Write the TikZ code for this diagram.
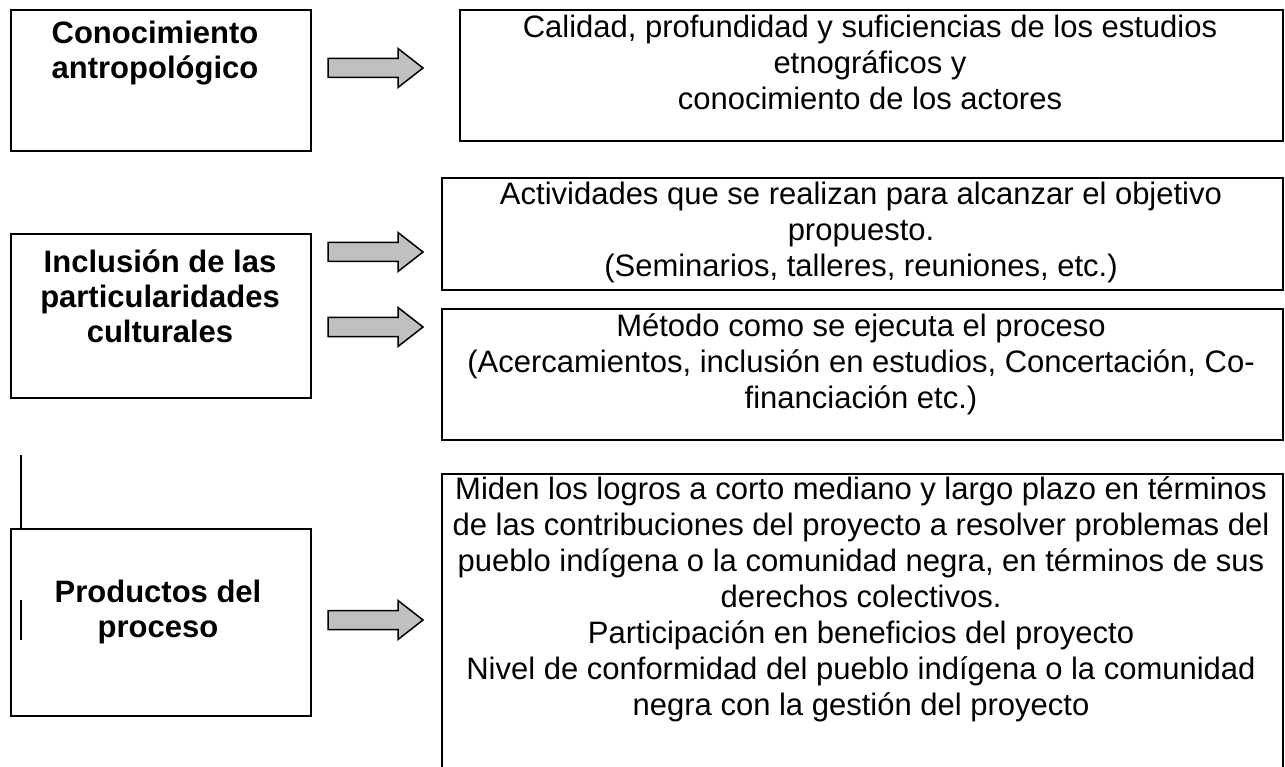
\documentclass[tikz,border=0pt]{standalone}
\usepackage{fontspec}
\setmainfont{Liberation Sans}
\definecolor{arrowgray}{RGB}{192,192,192}
\begin{document}
\begin{tikzpicture}[x=1pt,y=-1pt,
  box/.style={draw=black, line width=1.8pt, rectangle, inner sep=0pt, anchor=north west},
  txt/.style={font=\fontsize{31}{36}\selectfont, align=center, inner sep=0pt, anchor=base},
  btxt/.style={font=\fontsize{31}{35}\selectfont\bfseries, align=center, inner sep=0pt, anchor=base},
  blk/.style={draw=black, line width=1.5pt, fill=arrowgray, line join=miter},
  rule/.style={draw=black, line width=2pt}]
\useasboundingbox (0,0) rectangle (1285,767);
\clip (0,0) rectangle (1285,767);
% left boxes
\node[box, minimum width=300pt, minimum height=141pt] (L1) at (10,9) {};
\node[box, minimum width=300pt, minimum height=164pt] (L2) at (10,233) {};
\node[box, minimum width=300pt, minimum height=187pt] (L3) at (10,528) {};
% right boxes
\node[box, minimum width=823pt, minimum height=131pt] (R1) at (459,9) {};
\node[box, minimum width=841pt, minimum height=112pt] (R2) at (441,177) {};
\node[box, minimum width=841pt, minimum height=131pt] (R3) at (441,308) {};
\node[box, minimum width=841pt, minimum height=330pt] (R4) at (441,473) {};
% texts (anchor = baseline of the last line)
\node[btxt] (L1t) at (155,79) {Conocimiento\\antropológico};
\node[btxt] (L2t) at (160,342) {Inclusión de las\\particularidades\\culturales};
\node[btxt] (L3t) at (158,637) {Productos del\\proceso};
\node[txt] (R1t) at (870,110) {Calidad, profundidad y suficiencias de los estudios\\etnográficos y\\conocimiento de los actores};
\node[txt] (R2t) at (861,277) {Actividades que se realizan para alcanzar el objetivo\\propuesto.\\(Seminarios, talleres, reuniones, etc.)};
\node[txt] (R3t) at (861,408) {Método como se ejecuta el proceso\\(Acercamientos, inclusión en estudios, Concertación, Co-\\financiación etc.)};
\node[txt] (R4t) at (861,715) {Miden los logros a corto mediano y largo plazo en términos\\de las contribuciones del proyecto a resolver problemas del\\pueblo indígena o la comunidad negra, en términos de sus\\derechos colectivos.\\Participación en beneficios del proyecto\\Nivel de conformidad del pueblo indígena o la comunidad\\negra con la gestión del proyecto};
% block arrows
\foreach \y in {68,252,327,620}
  \draw[blk] (328,\y-9.5) -- (398,\y-9.5) -- (398,\y-19.5) -- (423,\y) -- (398,\y+19.5) -- (398,\y+9.5) -- (328,\y+9.5) -- cycle;
% stray vertical lines
\coordinate (v1) at (21,455);
\coordinate (v2) at (21,600);
\coordinate (v3) at (21,640);
\draw[rule] (v1) -- (v1 |- L3.north);
\draw[rule] (v2) -- (v3);
\end{tikzpicture}
\end{document}
